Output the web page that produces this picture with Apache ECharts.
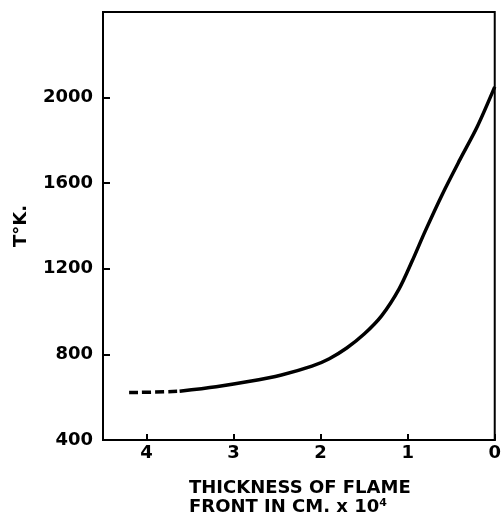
<!DOCTYPE html>
<html>
<head>
<meta charset="utf-8">
<script src="https://cdn.jsdelivr.net/npm/echarts@6/dist/echarts.min.js"></script>
<style>
  html, body { margin: 0; padding: 0; background: #fff; }
  #chart { width: 504px; height: 516px; }
</style>
</head>
<body>
<div id="chart"></div>
<script>
// Flame-front temperature profile: thickness (cm x 10^4) vs temperature (K)
const xTicks = [0, 1, 2, 3, 4];
const yTicks = [400, 800, 1200, 1600, 2000];

// extrapolated cold region (dashed)
const dashedThickness = [4.2, 3.9, 3.62];
const dashedTemp      = [622, 624, 628];

// measured profile (solid)
const solidThickness = [3.62, 3.2, 2.83, 2.45, 2.1, 1.9, 1.7, 1.5, 1.3, 1.1, 0.95, 0.8, 0.6, 0.4, 0.2, 0.0];
const solidTemp      = [628, 649, 673, 704, 745, 780, 830, 895, 980, 1105, 1235, 1375, 1550, 1710, 1865, 2050];

const pairs = (xs, ys) => xs.map((x, i) => [x, ys[i]]);

const font = 'DejaVu Sans';
const chart = echarts.init(document.getElementById('chart'), null, { renderer: 'canvas' });

chart.setOption({
  backgroundColor: '#ffffff',
  animation: false,
  grid: {
    left: 103, right: 4, top: 12, bottom: 76,
    show: true, borderColor: '#000', borderWidth: 2, backgroundColor: 'transparent'
  },
  xAxis: {
    type: 'value', min: 0, max: 4.5, interval: 1, inverse: true,
    axisLine: { show: true, onZero: false, lineStyle: { color: '#000', width: 2 } },
    axisTick: { show: true, inside: true, length: 6, lineStyle: { color: '#000', width: 2 } },
    splitLine: { show: false },
    axisLabel: {
      color: '#000', fontFamily: font, fontSize: 18, fontWeight: 'bold', margin: 4,
      showMaxLabel: false,
      formatter: v => (xTicks.includes(v) ? String(v) : '')
    }
  },
  yAxis: {
    type: 'value', min: 400, max: 2400, interval: 400, position: 'left',
    name: 'T°K.', nameLocation: 'middle', nameGap: 73, nameRotate: 90,
    nameTextStyle: { color: '#000', fontFamily: font, fontSize: 18, fontWeight: 'bold' },
    axisLine: { show: true, onZero: false, lineStyle: { color: '#000', width: 2 } },
    axisTick: { show: true, inside: true, length: 7, lineStyle: { color: '#000', width: 2 } },
    splitLine: { show: false },
    axisLabel: {
      color: '#000', fontFamily: font, fontSize: 18, fontWeight: 'bold', margin: 10,
      formatter: v => (yTicks.includes(v) ? String(v) : '')
    }
  },
  graphic: [{
    type: 'text', left: 189, top: 479,
    style: {
      text: 'THICKNESS OF FLAME\nFRONT IN CM. x 10⁴',
      font: 'bold 18px "DejaVu Sans"', fill: '#000', lineHeight: 19
    }
  }],
  series: [
    {
      type: 'line', data: pairs(dashedThickness, dashedTemp),
      showSymbol: false, smooth: true,
      lineStyle: { color: '#000', width: 3.5, type: [9, 4] }
    },
    {
      type: 'line', data: pairs(solidThickness, solidTemp),
      showSymbol: false, smooth: 0.3,
      lineStyle: { color: '#000', width: 3.5 }
    }
  ]
});
</script>
</body>
</html>
